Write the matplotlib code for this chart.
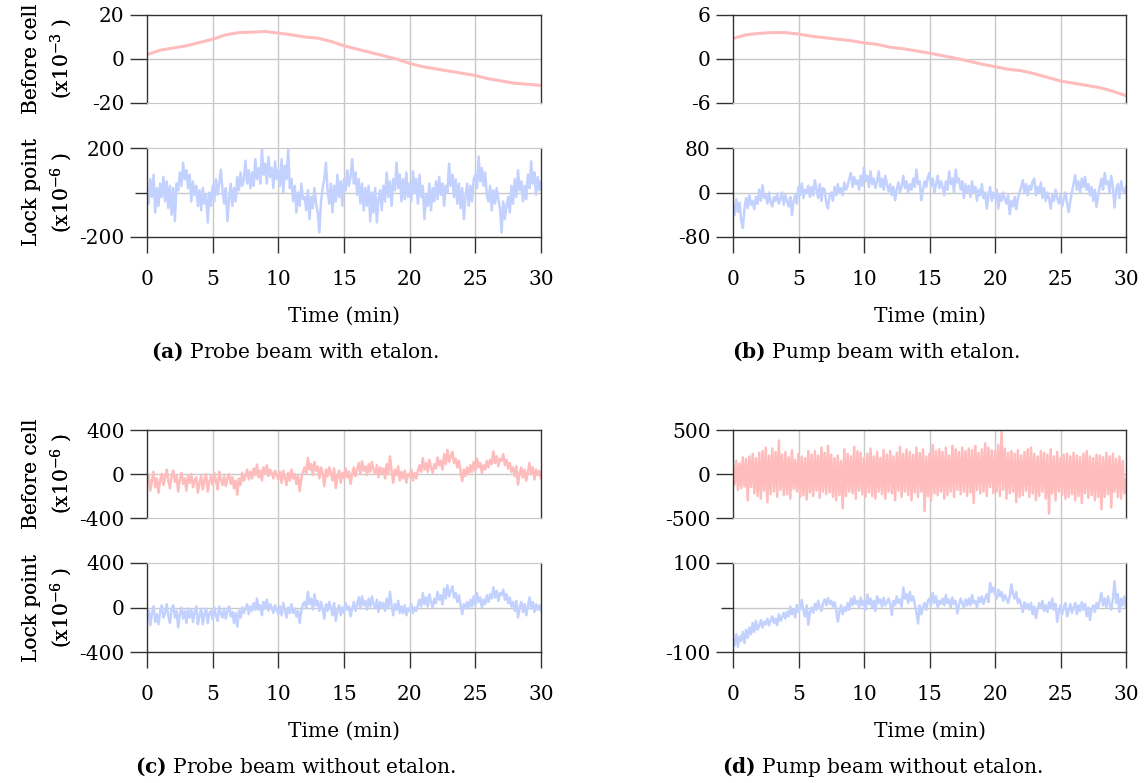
import numpy as np
import matplotlib
matplotlib.use("Agg")
from matplotlib import pyplot as plt

plt.rcParams["font.family"] = ["DejaVu Serif"]
plt.rcParams["mathtext.fontset"] = "dejavuserif"
plt.rcParams["axes.unicode_minus"] = False

# sample times (min)
t_slow = np.arange(31)
t_fast = np.linspace(0, 30, 241)

# (a) probe beam with etalon
a_before = [2, 4, 5, 6, 7.5, 9, 11, 12, 12.2, 12.5, 11.8, 11, 10, 9.5, 8, 6,
            4.5, 3, 1.5, 0, -2, -3.5, -4.5, -5.5, -6.5, -7.5, -9, -10, -11, -11.5, -12]
a_lock = [
    10, -50, 60, -20, 80, -90, 20, -60, 40, -20, 70, -40, 50, -70, 30, -100,
    20, -128, 40, 10, 90, 30, 134, 60, 100, 20, 80, -40, 50, -10, 30, -60,
    10, -80, 20, -50, -10, -135, 0, -60, 30, -40, 60, -10, 40, 103, 10, -50,
    20, -128, -30, 40, -60, 20, -40, 70, 10, 90, 30, 60, 143, 40, 100, 20,
    90, 30, 150, 60, 110, 40, 195, 80, 130, 40, 160, 70, 110, 20, 140, 60,
    100, 30, 150, 0, 120, 60, 195, 20, 60, -40, 30, -90, 0, -60, 40, -30,
    -20, -80, 10, -120, -20, -70, 20, -50, -90, -180, -40, 20, 60, 134, 10, -50,
    40, -90, 30, -40, 80, -20, 50, -60, 60, 10, 100, 30, 70, 150, 40, 90,
    -10, 60, -50, 40, -80, 20, -60, 30, -130, 0, -90, 20, -135, -30, 10, -80,
    30, -40, 90, -20, 50, -60, 60, 10, 134, 20, 80, -40, 60, -30, 90, -20,
    40, -40, 95, 0, 60, -50, 80, -20, 30, -120, -10, -60, 40, -80, 20, -40,
    50, -30, 70, -10, 40, -60, 30, 0, 130, 30, 80, -20, 60, -50, 40, -70,
    20, -120, -20, 40, -60, 30, -40, 60, 80, 20, 162, 50, 110, 30, 90, -10,
    -40, 30, -80, 10, -50, 20, -30, -70, -180, -40, -120, -60, -20, -90, 30, -50,
    60, -20, 100, 10, 50, -40, 30, -30, 80, 20, 140, 40, 90, -10, 70, 10,
    50]

# (b) pump beam with etalon
b_before = [2.8, 3.3, 3.5, 3.6, 3.6, 3.4, 3.1, 2.9, 2.7, 2.5, 2.2, 2.0, 1.6, 1.4, 1.1, 0.8,
            0.45, 0.1, -0.3, -0.7, -1.05, -1.4, -1.6, -2.0, -2.5, -3.0, -3.3, -3.6, -3.9, -4.4, -5.0]
b_lock = [
    -20, -40, -12, -35, -18, -50, -64, -30, -10, -28, -5, -22, -15, -30, -8, -20,
    5, -15, 13, -10, -5, -20, 0, -18, -25, -8, -15, -2, -20, -12, 0, -22,
    -5, -15, -25, -8, -41, -15, -5, -20, 10, -5, 16, -10, 5, 0, 12, -8,
    10, -5, 22, 5, -10, 15, -15, 8, 5, -20, -29, -5, 0, -15, 10, -5,
    15, 0, 8, -5, 18, 5, 12, 25, 35, 10, 28, 15, 22, 5, 30, 12,
    45, 20, 30, 10, 38, 15, 25, 8, 20, 38, 10, 25, 5, 30, 15, 2,
    15, -5, 10, -14, 5, 18, 0, 12, 30, 8, 20, 0, 15, 5, 25, 10,
    41, 15, 20, -14, 5, 20, 10, 28, 35, 12, 25, 0, 15, 30, 8, 20,
    10, -5, 20, 5, 38, 15, 25, 0, 41, 18, 25, 5, 20, -10, 15, 0,
    12, -8, 20, 0, 10, -15, 5, -5, 15, -10, 0, -29, -5, 10, -15, 0,
    -10, 5, -29, -5, -15, 0, -12, -20, -5, -39, -15, -25, -8, -30, -10, 0,
    10, 22, 0, 15, -5, 12, 5, 20, 25, -5, 10, 0, 18, -10, 8, -15,
    0, -10, -29, -5, -15, 5, -10, -20, -5, -25, -12, 0, -20, -35, -15, 0,
    15, 31, 5, 20, 0, 25, 10, 28, 5, 15, -5, 10, -15, 5, -26, -5,
    10, 25, 5, 35, 15, 20, 0, 30, 10, -27, 5, 15, -10, 20, 5, 0,
    10]

# (c) probe beam without etalon
c_before = [
    -80, -20, -150, -60, 20, -120, -40, -170, -60, 0, -100, -30, 40, -60, -130, -20,
    30, -70, -20, -160, -50, 10, -90, -40, -150, -20, -80, 0, -120, -60, -30, -170,
    -80, -20, -140, -50, 0, -160, -70, -20, -100, 10, -60, -140, 20, -50, -100, -20,
    -110, -40, 0, -90, -30, -130, -60, -187, -40, -100, 10, -60, -20, 40, -50, 20,
    -40, 50, -10, 85, -30, 30, -60, 60, 0, 80, -20, 40, 10, -40, 30, -10,
    -50, 20, -80, 30, -30, -100, 10, -60, 40, -40, 0, -90, -20, -157, -40, 20,
    60, 0, 145, 40, 90, -10, 110, 30, 70, -40, 60, 0, -110, 40, -20, 60,
    10, -60, 50, -127, -20, 30, -80, 10, -40, 50, -30, 20, -90, 0, 60, -20,
    40, 100, 0, 115, 30, 70, -10, 90, 20, 110, 40, 0, 80, -30, 60, 10,
    50, -40, 90, 0, 160, 30, -80, 40, -10, 70, -60, 20, -40, 30, -80, 0,
    -20, 40, -60, 10, -40, 30, 80, 20, 145, 40, 100, 20, 130, 60, 10, 90,
    50, 150, 80, 120, 40, 180, 90, 220, 110, 160, 200, 100, 140, 60, 120, 30,
    -65, 40, -20, 60, 0, 80, 20, 110, 30, 140, 60, 100, 10, 80, 40, 120,
    60, 130, 90, 205, 100, 160, 70, 140, 120, 180, 80, 130, 50, 100, 20, 60,
    -20, 70, -97, 10, 60, -30, 40, -60, 20, 100, 0, 60, -50, 40, -10, 30,
    -40]
c_lock = [
    -100, -30, -160, -50, 10, -130, -60, -150, -40, 20, -90, -50, 30, -80, -140, -10,
    20, -90, -30, -180, -60, 0, -100, -30, -140, -10, -90, -20, -130, -40, 10, -150,
    -70, -10, -150, -60, -10, -140, -50, -30, -110, 0, -70, -120, 10, -60, -90, -10,
    -100, -30, 10, -80, -40, -140, -50, -170, -30, -90, 0, -50, -10, 30, -60, 10,
    -30, 40, -20, 80, -20, 20, -70, 50, -10, 70, -30, 30, 0, -50, 20, -20,
    -60, 10, -70, 40, -20, -90, 0, -50, 30, -50, -10, -80, -30, -140, -30, 30,
    50, -10, 140, 30, 80, -20, 120, 20, 60, -30, 50, -10, -100, 30, -30, 50,
    0, -70, 40, -120, -30, 20, -70, 0, -50, 40, -20, 10, -80, -10, 50, -30,
    30, 90, -10, 100, 20, 60, -20, 80, 10, 100, 30, -10, 70, -40, 50, 0,
    40, -30, 80, -10, 140, 20, -70, 30, -20, 60, -50, 10, -50, 20, -70, -10,
    -30, 30, -50, 0, -30, 20, 70, 10, 130, 30, 90, 10, 120, 50, 0, 80,
    40, 140, 70, 110, 30, 170, 80, 200, 100, 150, 190, 90, 130, 50, 110, 20,
    -60, 30, -10, 50, -10, 70, 10, 100, 20, 130, 50, 90, 0, 70, 30, 110,
    50, 120, 80, 180, 90, 150, 60, 130, 110, 160, 70, 120, 40, 90, 10, 50,
    -30, 60, -90, 0, 50, -40, 30, -70, 10, 90, -10, 50, -40, 30, -20, 20,
    -30]

# (d) pump beam without etalon
d_before = [
    90, -120, 150, -180, 120, -160, 190, -140, 170, -300, 200, -150, 230, -220, 180, -250,
    240, -280, 260, -190, 300, -320, 210, -230, 290, -200, 250, -260, 380, -180, 220, -240,
    250, -230, 190, -280, 270, -170, 160, -200, 230, -260, 200, -240, 180, -290, 260, -210,
    220, -250, 260, -190, 210, -270, 300, -200, 240, -230, 320, -210, 220, -260, 180, -300,
    210, -240, 150, -390, 280, -250, 230, -200, 200, -220, 310, -280, 260, -190, 240, -230,
    180, -260, 230, -210, 290, -250, 200, -280, 250, -200, 180, -230, 270, -280, 220, -200,
    260, -220, 200, -300, 240, -190, 310, -260, 230, -200, 280, -240, 250, -300, 220, -210,
    300, -260, 240, -200, 280, -420, 200, -250, 230, -300, 330, -220, 260, -240, 280, -200,
    250, -280, 300, -240, 210, -200, 320, -260, 280, -180, 250, -230, 300, -200, 260, -250,
    290, -210, 270, -330, 320, -180, 240, -220, 280, -200, 350, -250, 300, -150, 270, -220,
    260, -200, 330, -250, 480, -180, 290, -280, 240, -220, 260, -200, 230, -320, 270, -260,
    210, -240, 250, -190, 280, -260, 300, -220, 230, -300, 200, -250, 260, -200, 240, -280,
    220, -450, 280, -220, 200, -300, 250, -200, 180, -240, 220, -280, 230, -260, 200, -230,
    240, -300, 210, -250, 190, -330, 230, -220, 260, -270, 200, -240, 180, -300, 220, -260,
    210, -400, 190, -260, 240, -230, 200, -380, 230, -200, 170, -260, 200, -280, 150, -220,
    -60]
d_lock = [
    -70, -85, -60, -88, -65, -75, -55, -80, -50, -68, -45, -60, -35, -55, -30, -50,
    -42, -28, -45, -32, -38, -25, -40, -30, -20, -35, -25, -40, -15, -30, -22, -12,
    -25, -10, -20, 2, -15, -5, -22, 6, -10, -3, 17, -8, -20, 5, -39, -10,
    0, -12, 8, -5, 15, 0, -8, 10, 18, 5, 21, 8, 15, 2, 12, -5,
    -32, -10, 5, -15, 0, -8, 10, -5, 20, 5, 25, 8, 15, 0, 22, 5,
    15, -5, 29, 8, 20, 0, 15, -8, 25, 10, 18, 2, 22, 5, 12, 20,
    8, -17, 15, 5, 25, 10, 18, 2, 45, 20, 30, 10, 35, 15, 25, 8,
    -10, -36, 5, -15, 0, 10, -5, 15, 20, 5, 33, 10, 25, 0, 15, 8,
    20, 5, 28, 10, 18, 0, 22, 8, 15, -13, 5, 20, 10, 0, 18, 5,
    20, 5, 28, 10, 15, 0, 22, 12, 25, 8, 20, 30, 12, 55, 35, 45,
    30, 20, 40, 25, 35, 15, 28, 20, 10, 25, 52, 30, 20, 35, 10, 18,
    5, -10, 12, 0, 8, -5, 10, -15, 2, -24, -5, 10, 0, 15, -8, 5,
    -10, 12, 0, 20, -5, 8, -32, -10, 5, -15, 0, 10, -20, -5, 8, -12,
    0, 10, -15, 5, -8, 12, -5, 8, -20, 0, -28, -5, 5, -10, 10, 0,
    15, 33, 5, 20, 0, 25, 8, -5, 20, 59, 10, 30, -10, 20, 5, 25,
    0]

PINK = "#ffbcbc"
BLUE = "#c3d1ff"
DARK = "#333333"
GRID = "#c8c8c8"
FS = 14.5

W, H = 1147, 783
fig = plt.figure(figsize=(W / 100, H / 100), dpi=100)


def rect(x0, y0, x1, y1):
    return [x0 / W, 1 - y1 / H, (x1 - x0) / W, (y1 - y0) / H]


def ylab(text, y0, y1, dy):
    fig.text(48 / W, 1 - ((y0 + y1) / 2 + dy) / H, text, rotation=90,
             ha="center", va="center", multialignment="center",
             fontsize=FS, linespacing=1.4)


def panel(x0, x1, dy, top, bot, caption, cx):
    t1, y1, lim1, exp1 = top
    t2, y2, lim2, minor0, exp2 = bot

    # vertical grid spanning both plots
    bg = fig.add_axes(rect(x0, 15 + dy, x1, 237 + dy), zorder=0)
    bg.set_xlim(0, 30)
    bg.axis("off")
    for xv in [5, 10, 15, 20, 25]:
        bg.axvline(xv, color=GRID, lw=1.0)

    ax1 = fig.add_axes(rect(x0, 15 + dy, x1, 103 + dy), zorder=1)
    ax1.patch.set_alpha(0)
    ax1.axhline(0, color=GRID, lw=1.0, zorder=0)
    ax1.plot(t1, y1, color=PINK, lw=1.8 if len(y1) > 40 else 2.2, zorder=2)
    ax1.set_xlim(0, 30)
    ax1.set_ylim(-lim1, lim1)
    ax1.set_yticks([-lim1, 0, lim1])
    ax1.set_yticklabels([f"-{lim1:g}", "0", f"{lim1:g}"])
    ax1.tick_params(axis="y", direction="out", length=12, width=1, color=DARK,
                    pad=4, labelsize=FS)
    ax1.tick_params(axis="x", bottom=False, labelbottom=False)
    for s in ["left", "top", "right"]:
        ax1.spines[s].set_color(DARK)
        ax1.spines[s].set_linewidth(1.0)
    ax1.spines["bottom"].set_color(GRID)

    ax2 = fig.add_axes(rect(x0, 148 + dy, x1, 237 + dy), zorder=1)
    ax2.patch.set_alpha(0)
    ax2.axhline(0, color=GRID, lw=1.0, zorder=0)
    ax2.plot(t2, y2, color=BLUE, lw=1.8, zorder=2)
    ax2.set_xlim(0, 30)
    ax2.set_ylim(-lim2, lim2)
    if minor0:
        ax2.set_yticks([-lim2, lim2])
        ax2.set_yticklabels([f"-{lim2:g}", f"{lim2:g}"])
        ax2.set_yticks([0], minor=True)
        ax2.tick_params(axis="y", which="minor", direction="out", length=9,
                        width=1, color=DARK)
    else:
        ax2.set_yticks([-lim2, 0, lim2])
        ax2.set_yticklabels([f"-{lim2:g}", "0", f"{lim2:g}"])
    ax2.tick_params(axis="y", direction="out", length=12, width=1, color=DARK,
                    pad=4, labelsize=FS)
    ax2.set_xticks([0, 5, 10, 15, 20, 25, 30])
    ax2.tick_params(axis="x", direction="out", length=11.5, width=1, color=DARK,
                    pad=12, labelsize=FS)
    for s in ["left", "bottom", "right"]:
        ax2.spines[s].set_color(DARK)
        ax2.spines[s].set_linewidth(1.0)
    ax2.spines["top"].set_color(GRID)
    ax2.set_xlabel("Time (min)", fontsize=FS, labelpad=13)

    ylab("Before cell\n(x10$^{%d}$ )" % exp1, 15, 103, dy)
    ylab("Lock point\n(x10$^{%d}$ )" % exp2, 148, 237, dy)
    fig.text(cx / W, 1 - (352 + dy) / H, caption, ha="center", va="center",
             fontsize=FS)


panel(147, 541, 0, (t_slow, a_before, 20, -3), (t_fast, a_lock, 200, True, -6),
      r"$\mathbf{(a)}$ Probe beam with etalon.", 295)
panel(733, 1126, 0, (t_slow, b_before, 6, -3), (t_fast, b_lock, 80, False, -6),
      r"$\mathbf{(b)}$ Pump beam with etalon.", 876)
panel(147, 541, 415, (t_fast, c_before, 400, -6), (t_fast, c_lock, 400, False, -6),
      r"$\mathbf{(c)}$ Probe beam without etalon.", 295)
panel(733, 1126, 415, (t_fast, d_before, 500, -6), (t_fast, d_lock, 100, True, -6),
      r"$\mathbf{(d)}$ Pump beam without etalon.", 882)

fig.savefig("out.png", dpi=100)
